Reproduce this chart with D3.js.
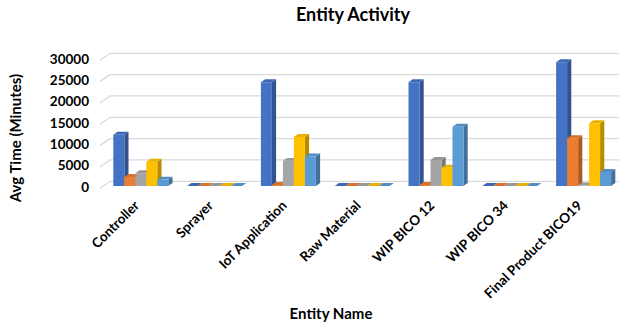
<!DOCTYPE html>
<html>
<head>
<meta charset="utf-8">
<script src="https://cdn.jsdelivr.net/npm/d3@7"></script>
<style>
  html, body { margin: 0; padding: 0; background: #fff; }
  svg { display: block; font-family: Lato, "Open Sans", sans-serif; }
</style>
</head>
<body>
<svg id="chart" width="622" height="322"></svg>
<script>
// Entity names along the x axis
const categories = ["Controller", "Sprayer", "IoT Application", "Raw Material",
  "WIP BICO 12", "WIP BICO 34", "Final Product BICO19"];

// Average time (minutes) per entity, one array per series
const series1 = [12000, 0, 24300, 0, 24300, 0, 29000];
const series2 = [2100, 0, 250, 0, 250, 0, 11200];
const series3 = [3000, 0, 5900, 0, 6100, 0, 100];
const series4 = [5700, 0, 11500, 0, 4300, 0, 14700];
const series5 = [1500, 0, 6900, 0, 13900, 0, 3300];

const yTicks = [0, 5000, 10000, 15000, 20000, 25000, 30000];
const seriesColors = ["#4472C4", "#ED7D31", "#A5A5A5", "#FFC000", "#5B9BD5"];

const seriesList = [series1, series2, series3, series4, series5];

const svg = d3.select("#chart");

// oblique 3D projection: depth z in [0,1] shifts right and up
const DX = 10, DY = 7;
const floorLeft = 100, backRight = 619;
const y = d3.scaleLinear().domain([0, 30000]).range([188.3, 60.3]);
const proj = (x, v, z) => [x + z * DX, y(v) - z * DY];

const x0 = d3.scaleBand().domain(categories).range([102.6, 102.6 + 7 * 73.8]);
const x1 = d3.scaleBand().domain(d3.range(seriesList.length)).range([7.4, 62.4]);

// gridlines: side wall diagonal + back wall horizontal
const grid = svg.append("g").attr("stroke", "#d9d9d9").attr("stroke-width", 1.3).attr("fill", "none");
yTicks.forEach(v => {
  const a = proj(floorLeft, v, 0), b = proj(floorLeft, v, 1);
  grid.append("path").attr("d", `M${a[0]},${a[1]}L${b[0]},${b[1]}L${backRight},${b[1]}`);
});

// bars, drawn left to right so each front face covers the previous side face
const zf = 0.33, zb = 0.75;
const bars = svg.append("g");
categories.forEach((cat, ci) => {
  seriesList.forEach((vals, si) => {
    const v = vals[ci];
    const xl = x0(cat) + x1(si), xr = xl + x1.bandwidth();
    const c = d3.color(seriesColors[si]);
    const side = c.darker(0.9).formatHex();
    const top = c.darker(0.25).formatHex();
    const pts = (arr) => arr.map(p => p.join(",")).join(" ");
    // right side face
    bars.append("polygon").attr("fill", side)
      .attr("points", pts([proj(xr, 0, zf), proj(xr, v, zf), proj(xr, v, zb), proj(xr, 0, zb)]));
    // top face
    bars.append("polygon").attr("fill", top)
      .attr("points", pts([proj(xl, v, zf), proj(xr, v, zf), proj(xr, v, zb), proj(xl, v, zb)]));
    // front face
    bars.append("polygon").attr("fill", c.formatHex())
      .attr("points", pts([proj(xl, 0, zf), proj(xr, 0, zf), proj(xr, v, zf), proj(xl, v, zf)]));
  });
});

// y axis labels
const yAxis = d3.axisLeft(y).tickValues(yTicks).tickSize(0).tickPadding(11).tickFormat(d3.format("d"));
const ya = svg.append("g").attr("transform", `translate(${floorLeft},-1.5)`).call(yAxis);
ya.select(".domain").remove();
ya.selectAll("text").attr("font-family", "Lato, sans-serif").attr("font-size", 13.5)
  .attr("font-weight", "bold").attr("fill", "#000");

// x axis labels, rotated
svg.append("g").selectAll("text").data(categories).join("text")
  .attr("transform", d => {
    const cx = x0(d) + x1(0) + 27.5 + zf * DX - 4;
    return `translate(${cx},203) rotate(-45)`;
  })
  .attr("text-anchor", "end")
  .attr("dy", "0.35em")
  .attr("font-size", 13.5).attr("font-weight", "bold").attr("fill", "#000")
  .text(d => d);

// titles
svg.append("text").attr("x", 353).attr("y", 21).attr("text-anchor", "middle")
  .attr("font-size", 18).attr("font-weight", "bold").attr("fill", "#000").text("Entity Activity");
svg.append("text").attr("x", 331).attr("y", 319).attr("text-anchor", "middle")
  .attr("font-size", 15).attr("font-weight", "bold").attr("fill", "#000").text("Entity Name");
svg.append("text").attr("transform", "translate(21,138) rotate(-90)").attr("text-anchor", "middle")
  .attr("font-size", 15).attr("font-weight", "bold").attr("fill", "#000").text("Avg Time (Minutes)");
</script>
</body>
</html>
